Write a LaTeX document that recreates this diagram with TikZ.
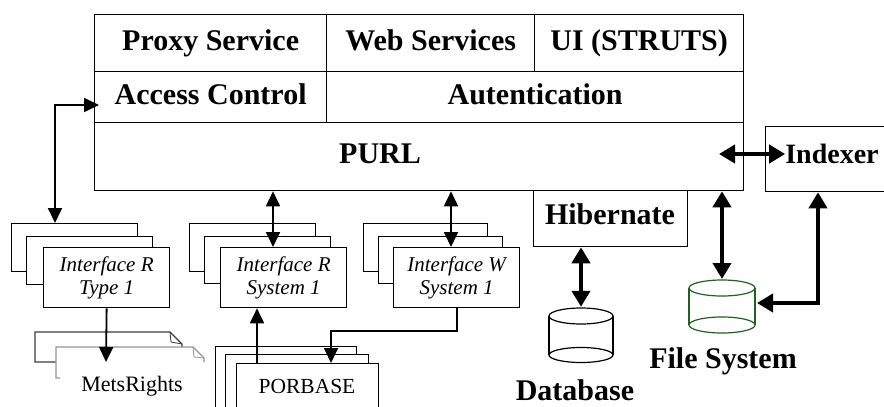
\documentclass[tikz,border=0pt]{standalone}
\usepackage{fontspec}
\setmainfont{Liberation Serif}
\usetikzlibrary{arrows.meta}
\definecolor{fsgreen}{RGB}{35,95,35}
\definecolor{docdark}{RGB}{60,60,60}
\definecolor{doclight}{RGB}{150,150,150}
\begin{document}
\begin{tikzpicture}[x=1pt,y=-1pt,
  box/.style={draw, line width=1.3pt, inner sep=0pt, anchor=north west},
  wbox/.style={box, fill=white},
  big/.style={font=\fontsize{30}{34}\selectfont\bfseries, inner sep=0pt, text height=20pt, text depth=6pt},
  ital/.style={font=\fontsize{21}{23}\selectfont\itshape, align=center, inner sep=0pt},
  plain/.style={font=\fontsize{22}{26}\selectfont, inner sep=0pt},
  thinone/.style={line width=1.8pt, -{Triangle[length=15pt,width=14pt]}},
  thinboth/.style={line width=1.8pt, {Triangle[length=15pt,width=14pt]}-{Triangle[length=15pt,width=14pt]}},
  thickboth/.style={line width=4pt, {Triangle[length=16pt,width=18pt]}-{Triangle[length=16pt,width=18pt]}},
  doc/.style={line width=1.4pt},
  cyl/.style={line width=1.2pt}
]
\clip (0,0) rectangle (884,407);
\fill[white] (0,0) rectangle (884,407);

% main block
\node[box, minimum width=232pt, minimum height=57pt, big] (proxy) at (94,14) {Proxy Service};
\node[box, minimum width=208pt, minimum height=57pt, big] (web) at (326,14) {Web Services};
\node[box, minimum width=209pt, minimum height=57pt, big] (ui) at (534,14) {UI (STRUTS)};
\node[box, minimum width=232pt, minimum height=51pt, big] (access) at (94,71) {Access Control};
\node[box, minimum width=417pt, minimum height=51pt, big] (auth) at (326,71) {Autentication};
\node[box, minimum width=649pt, minimum height=68pt] (purl) at (94,122) {};
\node[big] (purltext) at (380,156) {PURL};

% hibernate
\node[box, minimum width=154pt, minimum height=56pt] (hib) at (533,190) {};
\node[big] (hibtext) at (610,217) {Hibernate};

% indexer
\node[box, minimum width=135pt, minimum height=65pt] (idxbox) at (765,126) {};
\node[font=\fontsize{28}{32}\selectfont\bfseries, inner sep=0pt] (idx) at (832,154) {Indexer};

% database cylinder
\node[minimum width=64pt, minimum height=56pt, inner sep=0pt] (db) at (581,335) {};
\draw[cyl] (581,316) ellipse [x radius=32pt, y radius=8pt];
\draw[cyl] (581,355) ellipse [x radius=32pt, y radius=7.5pt];
\draw[cyl] (549,316) -- (549,355) (613,316) -- (613,355);
\node[big] (dbtext) at (575,393) {Database};

% file system cylinder
\node[minimum width=66pt, minimum height=53pt, inner sep=0pt] (fs) at (722,306.5) {};
\draw[cyl, fsgreen] (722,288) ellipse [x radius=33pt, y radius=8pt];
\draw[cyl, fsgreen] (722,325) ellipse [x radius=33pt, y radius=8pt];
\draw[cyl, fsgreen] (689,288) -- (689,325) (755,288) -- (755,325);
\node[big] (fstext) at (723,361) {File System};

% Interface R Type 1 stack
\node[wbox, minimum width=126pt, minimum height=48pt] (t1a) at (11,223) {};
\node[wbox, minimum width=126pt, minimum height=48pt] (t1b) at (26,236) {};
\node[wbox, minimum width=126pt, minimum height=60pt, ital] (t1) at (43,247) {Interface R\\Type 1};

% Interface R System 1 stack
\node[wbox, minimum width=126pt, minimum height=48pt] (rsa) at (189,223) {};
\node[wbox, minimum width=126pt, minimum height=47pt] (rsb) at (204,236) {};
\node[wbox, minimum width=126pt, minimum height=60pt, ital] (rs) at (220,247) {Interface R\\System 1};

% Interface W System 1 stack
\node[wbox, minimum width=124pt, minimum height=48pt] (wsa) at (363,223) {};
\node[wbox, minimum width=124pt, minimum height=47pt] (wsb) at (378,236) {};
\node[wbox, minimum width=126pt, minimum height=60pt, ital] (ws) at (393,247) {Interface W\\System 1};

% PORBASE stack
\node[wbox, minimum width=141pt, minimum height=80pt] (pba) at (215,346) {};
\node[wbox, minimum width=143pt, minimum height=80pt] (pbb) at (225,354) {};
\node[wbox, minimum width=142pt, minimum height=80pt] (pb) at (236,363) {};
\node[inner sep=0pt, font=\fontsize{21.5}{25}\selectfont] (pbtext) at (307,386) {PORBASE};

% MetsRights documents
\draw[doc, docdark] (56,362) -- (35,362) -- (35,332) -- (170,332) -- (182,344) -- (182,347);
\draw[line width=0.8pt, docdark] (170,332) -- (171,342) -- (182,344);
\draw[doc, doclight] (60,378) -- (56,378) -- (56,347) -- (193,347) -- (204,358) -- (204,362);
\draw[line width=0.8pt, doclight] (193,347) -- (194,357) -- (204,358);
\node[plain] (mets) at (132,386) {MetsRights};

% connector coordinates
\coordinate (acK) at (55,105);
\coordinate (metsTip) at (106,362);
\coordinate (rsA) at (273,247);
\coordinate (pbA) at (257,363);
\coordinate (wsA) at (451,247);
\coordinate (wsK1) at (457,331);
\coordinate (wsK2) at (331,331);
\coordinate (purlE) at (719,154);
\coordinate (fsA) at (722,279);
\coordinate (fsK) at (818,303);
\coordinate (fsE) at (757,303);

% thin connectors
\draw[thinboth] (t1a.north -| acK) -- (acK) -- ([xshift=5pt]access.west |- acK);
\draw[thinone] (t1.south) -- (metsTip);
\draw[thinboth] (purl.south -| rsA) -- (rsA);
\draw[thinone] (pbA) -- (rs.south -| pbA);
\draw[thinboth] (purl.south -| wsA) -- (wsA);
\draw[thinone] (ws.south -| wsK1) -- (wsK1) -- (wsK2) -- (pb.north -| wsK2);

% thick connectors
\draw[thickboth] (purlE) -- (idx.west);
\draw[thickboth] (purl.south -| fsA) -- (fsA);
\draw[thickboth] (idxbox.south -| fsK) -- (fsK) -- (fsE);
\draw[thickboth] (hib.south -| db.north) -- (db.north);
\end{tikzpicture}
\end{document}
